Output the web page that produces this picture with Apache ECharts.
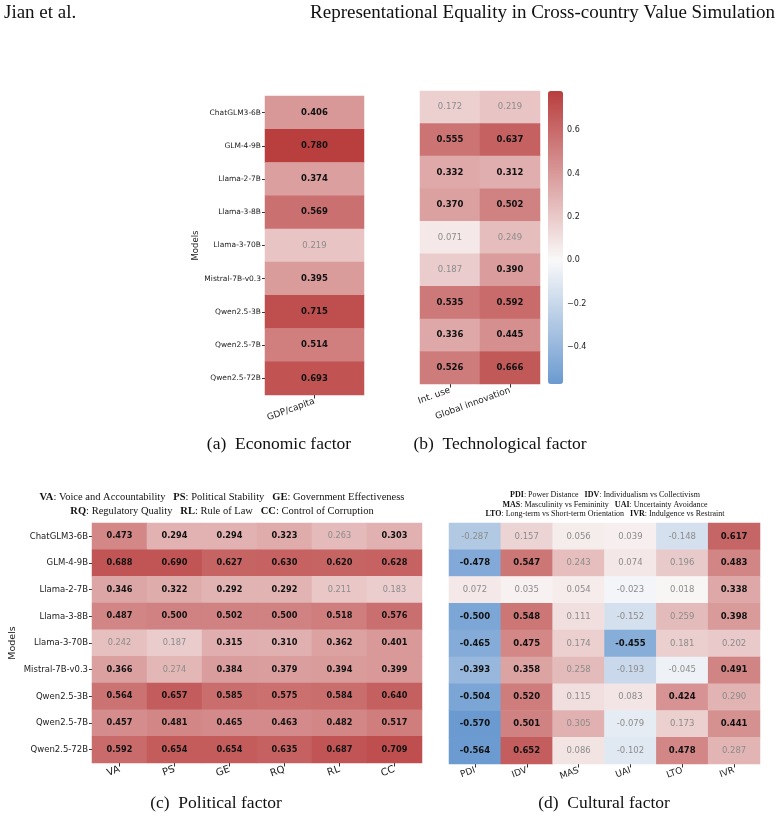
<!DOCTYPE html>
<html>
<head>
<meta charset="utf-8">
<script src="https://cdn.jsdelivr.net/npm/echarts@6/dist/echarts.min.js"></script>
<style>
  html, body { margin: 0; background: #fff; }
  #main { width: 778px; height: 818px; }
</style>
</head>
<body>
<div id="main"></div>
<script>
// data
const models = ['ChatGLM3-6B', 'GLM-4-9B', 'Llama-2-7B', 'Llama-3-8B', 'Llama-3-70B',
  'Mistral-7B-v0.3', 'Qwen2.5-3B', 'Qwen2.5-7B', 'Qwen2.5-72B']

const econLabels = ['GDP/capita']
const econGdp = [0.406, 0.780, 0.374, 0.569, 0.219, 0.395, 0.715, 0.514, 0.693]

const techLabels = ['Int. use', 'Global innovation']
const techIntUse = [0.172, 0.555, 0.332, 0.370, 0.071, 0.187, 0.535, 0.336, 0.526]
const techInnovation = [0.219, 0.637, 0.312, 0.502, 0.249, 0.390, 0.592, 0.445, 0.666]

const polLabels = ['VA', 'PS', 'GE', 'RQ', 'RL', 'CC']
const polValues = [
  [0.473, 0.294, 0.294, 0.323, 0.263, 0.303],
  [0.688, 0.690, 0.627, 0.630, 0.620, 0.628],
  [0.346, 0.322, 0.292, 0.292, 0.211, 0.183],
  [0.487, 0.500, 0.502, 0.500, 0.518, 0.576],
  [0.242, 0.187, 0.315, 0.310, 0.362, 0.401],
  [0.366, 0.274, 0.384, 0.379, 0.394, 0.399],
  [0.564, 0.657, 0.585, 0.575, 0.584, 0.640],
  [0.457, 0.481, 0.465, 0.463, 0.482, 0.517],
  [0.592, 0.654, 0.654, 0.635, 0.687, 0.709]
]

const culLabels = ['PDI', 'IDV', 'MAS', 'UAI', 'LTO', 'IVR']
const culValues = [
  [-0.287, 0.157, 0.056, 0.039, -0.148, 0.617],
  [-0.478, 0.547, 0.243, 0.074, 0.196, 0.483],
  [0.072, 0.035, 0.054, -0.023, 0.018, 0.338],
  [-0.500, 0.548, 0.111, -0.152, 0.259, 0.398],
  [-0.465, 0.475, 0.174, -0.455, 0.181, 0.202],
  [-0.393, 0.358, 0.258, -0.193, -0.045, 0.491],
  [-0.504, 0.520, 0.115, 0.083, 0.424, 0.290],
  [-0.570, 0.501, 0.305, -0.079, 0.173, 0.441],
  [-0.564, 0.652, 0.086, -0.102, 0.478, 0.287]
]

const colorbarTicks = [-0.4, -0.2, 0, 0.2, 0.4, 0.6]
const vMin = -0.57
const vMax = 0.78

// diverging blue-white-red, centred on 0
function divColor (v) {
  const mid = [250, 249, 249]
  const end = v < 0 ? [54, 119, 193] : [185, 62, 62]
  const t = Math.min(1, Math.abs(v) / 0.78)
  const c = mid.map((m, i) => Math.round(m + (end[i] - m) * t))
  return 'rgb(' + c.join(',') + ')'
}
const stops = []
for (let i = 0; i <= 135; i++) stops.push(divColor(vMin + i * 0.01))

// rows: array of per-model arrays; bold when |v| above the panel's cut
function cells (rows, cut, size) {
  const out = []
  rows.forEach((row, r) => {
    row.forEach((v, c) => {
      const strong = Math.abs(v) >= cut
      out.push({
        value: [c, r, v],
        label: {
          fontWeight: strong ? 'bold' : 'normal',
          color: strong ? '#111' : '#8c8c8c',
          fontSize: size
        }
      })
    })
  })
  return out
}

const sans = 'DejaVu Sans'
const serif = 'Liberation Serif'

function xCat (grid, labels, size) {
  return {
    type: 'category', gridIndex: grid, data: labels,
    axisLine: { show: false },
    axisTick: { show: true, alignWithLabel: true, length: 3.5, lineStyle: { color: '#333' } },
    axisLabel: { rotate: 20, fontSize: size, color: '#222', fontFamily: sans, margin: 6 },
    splitLine: { show: false }
  }
}
function yCat (grid, showLabels, size, gap) {
  return {
    type: 'category', gridIndex: grid, data: models, inverse: true,
    axisLine: { show: false },
    axisTick: { show: showLabels, alignWithLabel: true, length: 3, lineStyle: { color: '#333' } },
    axisLabel: { show: showLabels, fontSize: size, color: '#222', fontFamily: sans, margin: 4 },
    name: showLabels ? 'Models' : '',
    nameLocation: 'middle',
    nameGap: gap,
    nameTextStyle: { fontSize: size + 1, color: '#222', fontFamily: sans },
    splitLine: { show: false }
  }
}

function heat (idx, data) {
  return {
    type: 'heatmap', xAxisIndex: idx, yAxisIndex: idx, data: data,
    label: { show: true, fontFamily: sans, formatter: p => p.value[2].toFixed(3) },
    emphasis: { disabled: true }
  }
}

const chart = echarts.init(document.getElementById('main'))

function txt (x, y, text, font, align, rich) {
  return {
    type: 'text', x: x, y: y,
    style: {
      text: text, font: font, fill: '#111',
      textAlign: align, align: align,
      textVerticalAlign: 'middle', verticalAlign: 'middle',
      rich: rich || {}
    }
  }
}
const boldSerif10 = { b: { fontWeight: 'bold', fontFamily: serif, fontSize: 10.5, fill: '#111' } }
const boldSerif8 = { b: { fontWeight: 'bold', fontFamily: serif, fontSize: 8, fill: '#111' } }

chart.setOption({
  animation: false,
  grid: [
    { left: 265, top: 96, width: 99, height: 299 },
    { left: 420, top: 91, width: 120, height: 293 },
    { left: 92, top: 523, width: 330, height: 240 },
    { left: 449, top: 523, width: 311, height: 241 },
    { left: 548, top: 91, width: 15, height: 293 }
  ],
  xAxis: [
    xCat(0, econLabels, 9),
    xCat(1, techLabels, 9),
    xCat(2, polLabels, 10),
    xCat(3, culLabels, 9),
    { type: 'value', gridIndex: 4, show: false, min: 0, max: 1 }
  ],
  yAxis: [
    yCat(0, true, 7.5, 64),
    yCat(1, false, 7.5, 0),
    yCat(2, true, 8.5, 74),
    yCat(3, false, 8, 0),
    {
      type: 'value', gridIndex: 4, position: 'right', min: vMin, max: vMax,
      axisLine: { show: false }, splitLine: { show: false },
      axisTick: { show: true, length: 3, customValues: colorbarTicks, lineStyle: { color: '#333' } },
      axisLabel: {
        customValues: colorbarTicks, fontSize: 8, color: '#222', fontFamily: sans, margin: 4,
        formatter: v => (v < 0 ? '\u2212' : '') + Math.abs(v).toFixed(1)
      }
    }
  ],
  visualMap: {
    type: 'continuous', min: vMin, max: vMax, dimension: 2,
    seriesIndex: [0, 1, 2, 3],
    left: 548, top: 91, itemWidth: 15, itemHeight: 293, padding: 0,
    calculable: false, hoverLink: false, text: ['', ''],
    inRange: { color: stops }
  },
  series: [
    heat(0, cells(econGdp.map(v => [v]), 0.3, 8.5)),
    heat(1, cells(techIntUse.map((v, i) => [v, techInnovation[i]]), 0.3, 8.5)),
    heat(2, cells(polValues, 0.28, 8.2)),
    heat(3, cells(culValues, 0.32, 8.5))
  ],
  graphic: [
    txt(4, 13, 'Jian et al.', '19px ' + serif, 'left'),
    txt(775, 13, 'Representational Equality in Cross-country Value Simulation', '19px ' + serif, 'right'),
    txt(279, 444, '(a)  Economic factor', '17.5px ' + serif, 'center'),
    txt(500, 444, '(b)  Technological factor', '17.5px ' + serif, 'center'),
    txt(216, 803, '(c)  Political factor', '17.5px ' + serif, 'center'),
    txt(604, 803, '(d)  Cultural factor', '17.5px ' + serif, 'center'),
    txt(222, 497, '{b|VA}: Voice and Accountability   {b|PS}: Political Stability   {b|GE}: Government Effectiveness', '10.5px ' + serif, 'center', boldSerif10),
    txt(222, 511, '{b|RQ}: Regulatory Quality   {b|RL}: Rule of Law   {b|CC}: Control of Corruption', '10.5px ' + serif, 'center', boldSerif10),
    txt(605, 495, '{b|PDI}: Power Distance   {b|IDV}: Individualism vs Collectivism', '8px ' + serif, 'center', boldSerif8),
    txt(605, 504.5, '{b|MAS}: Masculinity vs Femininity   {b|UAI}: Uncertainty Avoidance', '8px ' + serif, 'center', boldSerif8),
    txt(605, 514, '{b|LTO}: Long-term vs Short-term Orientation   {b|IVR}: Indulgence vs Restraint', '8px ' + serif, 'center', boldSerif8)
  ]
})
</script>
</body>
</html>
